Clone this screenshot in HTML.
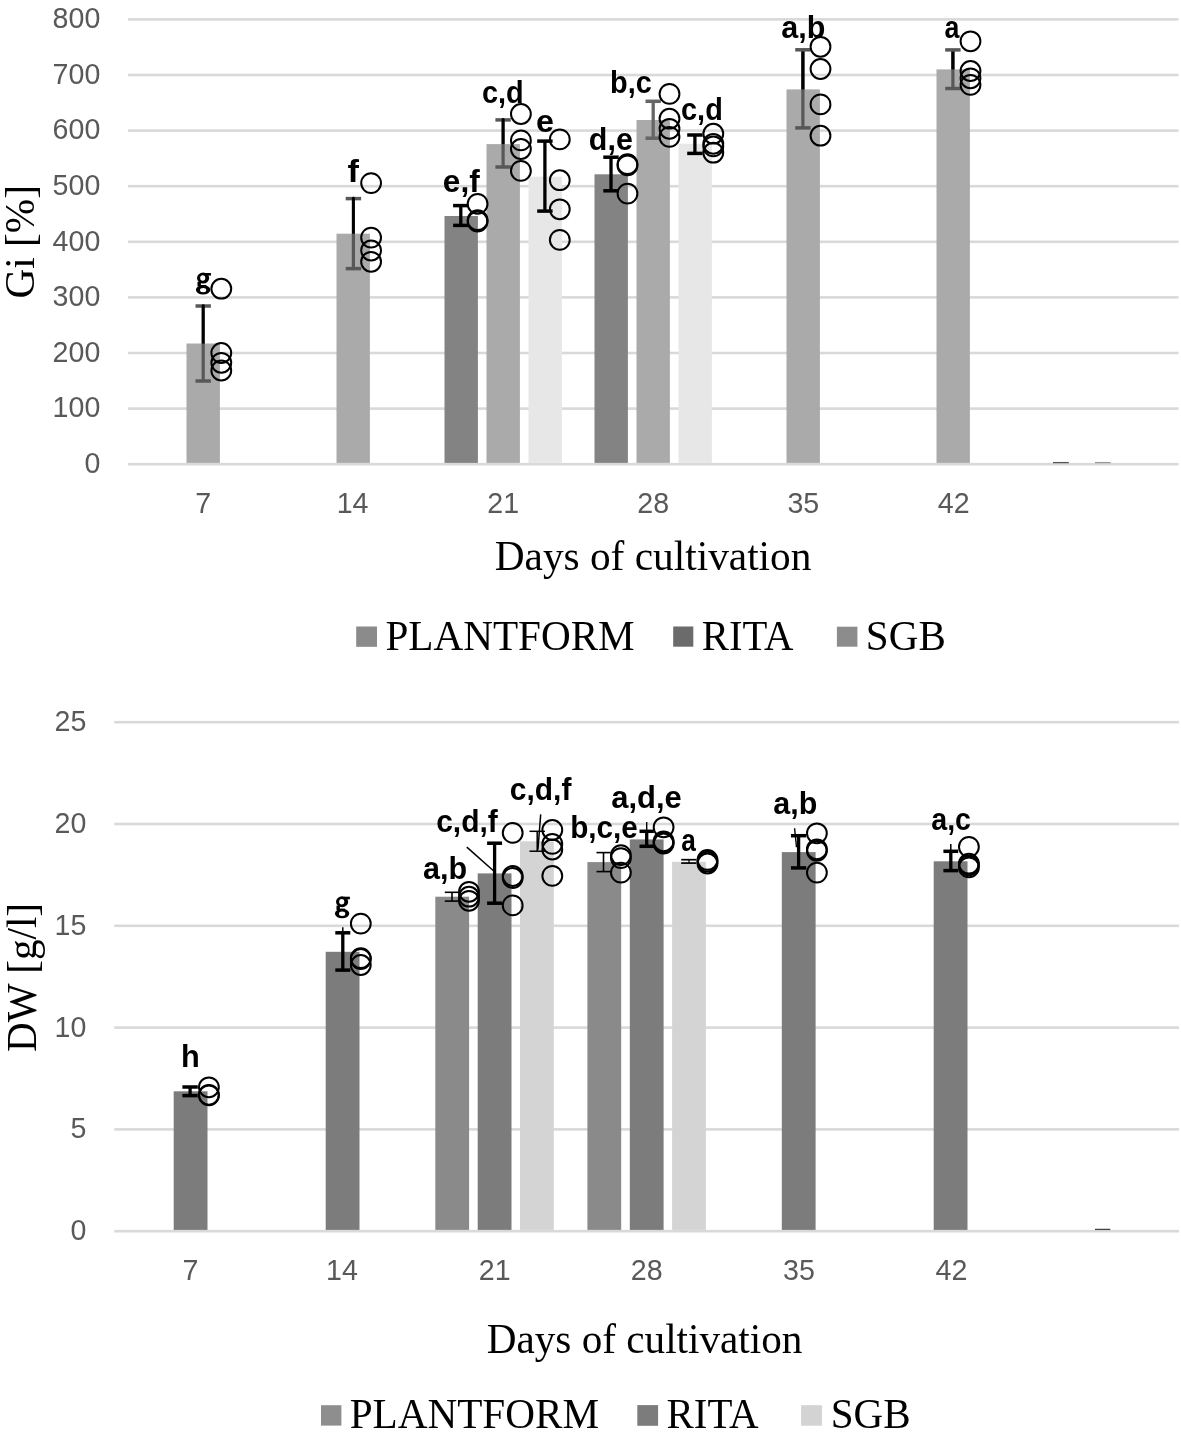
<!DOCTYPE html>
<html><head><meta charset="utf-8"><title>Chart</title><style>
html,body{margin:0;padding:0;background:#fff;width:1181px;height:1441px;overflow:hidden}
svg{display:block}
</style></head><body>
<svg width="1181" height="1441" viewBox="0 0 1181 1441" style="will-change:transform">
<rect width="1181" height="1441" fill="#fff"/>
<rect x="128.00" y="18.10" width="1050.50" height="2.60" fill="#d9d9d9"/>
<rect x="128.00" y="73.70" width="1050.50" height="2.60" fill="#d9d9d9"/>
<rect x="128.00" y="129.30" width="1050.50" height="2.60" fill="#d9d9d9"/>
<rect x="128.00" y="184.90" width="1050.50" height="2.60" fill="#d9d9d9"/>
<rect x="128.00" y="240.50" width="1050.50" height="2.60" fill="#d9d9d9"/>
<rect x="128.00" y="296.10" width="1050.50" height="2.60" fill="#d9d9d9"/>
<rect x="128.00" y="351.70" width="1050.50" height="2.60" fill="#d9d9d9"/>
<rect x="128.00" y="407.30" width="1050.50" height="2.60" fill="#d9d9d9"/>
<rect x="128.00" y="462.90" width="1050.50" height="2.60" fill="#d9d9d9"/>
<text x="52.60" y="28.15" font-family="Liberation Sans" font-weight="normal" font-size="28.6" fill="#595959">800</text>
<text x="52.60" y="83.75" font-family="Liberation Sans" font-weight="normal" font-size="28.6" fill="#595959">700</text>
<text x="52.60" y="139.35" font-family="Liberation Sans" font-weight="normal" font-size="28.6" fill="#595959">600</text>
<text x="52.60" y="194.95" font-family="Liberation Sans" font-weight="normal" font-size="28.6" fill="#595959">500</text>
<text x="52.60" y="250.55" font-family="Liberation Sans" font-weight="normal" font-size="28.6" fill="#595959">400</text>
<text x="52.60" y="306.15" font-family="Liberation Sans" font-weight="normal" font-size="28.6" fill="#595959">300</text>
<text x="52.60" y="361.75" font-family="Liberation Sans" font-weight="normal" font-size="28.6" fill="#595959">200</text>
<text x="52.60" y="417.35" font-family="Liberation Sans" font-weight="normal" font-size="28.6" fill="#595959">100</text>
<text x="84.41" y="472.95" font-family="Liberation Sans" font-weight="normal" font-size="28.6" fill="#595959">0</text>
<text x="195.33" y="512.94" font-family="Liberation Sans" font-weight="normal" font-size="28.6" fill="#595959">7</text>
<text x="336.72" y="512.94" font-family="Liberation Sans" font-weight="normal" font-size="28.6" fill="#595959">14</text>
<text x="487.37" y="513.08" font-family="Liberation Sans" font-weight="normal" font-size="28.6" fill="#595959">21</text>
<text x="637.30" y="512.95" font-family="Liberation Sans" font-weight="normal" font-size="28.6" fill="#595959">28</text>
<text x="787.45" y="512.95" font-family="Liberation Sans" font-weight="normal" font-size="28.6" fill="#595959">35</text>
<text x="937.79" y="513.08" font-family="Liberation Sans" font-weight="normal" font-size="28.6" fill="#595959">42</text>
<rect x="186.50" y="343.50" width="33.40" height="119.40" fill="#aaaaaa"/>
<rect x="336.50" y="233.70" width="33.40" height="229.20" fill="#aaaaaa"/>
<rect x="444.50" y="216.00" width="33.40" height="246.90" fill="#838383"/>
<rect x="486.50" y="144.10" width="33.40" height="318.80" fill="#aaaaaa"/>
<rect x="528.50" y="176.70" width="33.40" height="286.20" fill="#e7e7e7"/>
<rect x="594.50" y="174.30" width="33.40" height="288.60" fill="#838383"/>
<rect x="636.50" y="120.00" width="33.40" height="342.90" fill="#aaaaaa"/>
<rect x="678.50" y="143.80" width="33.40" height="319.10" fill="#e7e7e7"/>
<rect x="786.50" y="89.40" width="33.40" height="373.50" fill="#aaaaaa"/>
<rect x="936.50" y="69.40" width="33.40" height="393.50" fill="#aaaaaa"/>
<line x1="203.20" y1="306.00" x2="203.20" y2="381.00" stroke="#585858" stroke-width="3.2"/>
<line x1="195.50" y1="306.00" x2="210.90" y2="306.00" stroke="#585858" stroke-width="3.5"/>
<line x1="195.50" y1="381.00" x2="210.90" y2="381.00" stroke="#585858" stroke-width="3.5"/>
<line x1="203.20" y1="305.60" x2="203.20" y2="343.60" stroke="#000" stroke-width="2.9"/>
<circle cx="203.20" cy="305.60" r="1.45" fill="#000"/>
<line x1="353.40" y1="198.60" x2="353.40" y2="268.60" stroke="#585858" stroke-width="3.2"/>
<line x1="345.70" y1="198.60" x2="361.10" y2="198.60" stroke="#585858" stroke-width="3.5"/>
<line x1="345.70" y1="268.60" x2="361.10" y2="268.60" stroke="#585858" stroke-width="3.5"/>
<line x1="353.40" y1="198.20" x2="353.40" y2="233.70" stroke="#000" stroke-width="2.9"/>
<circle cx="353.40" cy="198.20" r="1.45" fill="#000"/>
<line x1="460.80" y1="205.60" x2="460.80" y2="225.40" stroke="#000" stroke-width="3.3"/>
<line x1="453.10" y1="205.60" x2="468.50" y2="205.60" stroke="#000" stroke-width="3.5"/>
<line x1="453.10" y1="225.40" x2="468.50" y2="225.40" stroke="#000" stroke-width="3.5"/>
<line x1="503.10" y1="119.90" x2="503.10" y2="167.00" stroke="#585858" stroke-width="3.2"/>
<line x1="495.40" y1="119.90" x2="510.80" y2="119.90" stroke="#585858" stroke-width="3.5"/>
<line x1="495.40" y1="167.00" x2="510.80" y2="167.00" stroke="#585858" stroke-width="3.5"/>
<line x1="503.10" y1="119.50" x2="503.10" y2="144.10" stroke="#000" stroke-width="2.9"/>
<circle cx="503.10" cy="119.50" r="1.45" fill="#000"/>
<line x1="544.90" y1="141.10" x2="544.90" y2="211.10" stroke="#000" stroke-width="3.3"/>
<line x1="537.20" y1="141.10" x2="552.60" y2="141.10" stroke="#000" stroke-width="3.5"/>
<line x1="537.20" y1="211.10" x2="552.60" y2="211.10" stroke="#000" stroke-width="3.5"/>
<line x1="611.00" y1="157.20" x2="611.00" y2="190.80" stroke="#000" stroke-width="3.3"/>
<line x1="603.30" y1="157.20" x2="618.70" y2="157.20" stroke="#000" stroke-width="3.5"/>
<line x1="603.30" y1="190.80" x2="618.70" y2="190.80" stroke="#000" stroke-width="3.5"/>
<line x1="653.20" y1="101.30" x2="653.20" y2="138.20" stroke="#666" stroke-width="3.3"/>
<line x1="645.50" y1="101.30" x2="660.90" y2="101.30" stroke="#666" stroke-width="3.5"/>
<line x1="645.50" y1="138.20" x2="660.90" y2="138.20" stroke="#666" stroke-width="3.5"/>
<line x1="694.90" y1="135.00" x2="694.90" y2="153.40" stroke="#000" stroke-width="3.3"/>
<line x1="687.20" y1="135.00" x2="702.60" y2="135.00" stroke="#000" stroke-width="3.5"/>
<line x1="687.20" y1="153.40" x2="702.60" y2="153.40" stroke="#000" stroke-width="3.5"/>
<line x1="802.90" y1="49.80" x2="802.90" y2="127.90" stroke="#585858" stroke-width="3.2"/>
<line x1="802.90" y1="49.80" x2="802.90" y2="89.40" stroke="#000" stroke-width="3.2"/>
<line x1="795.20" y1="49.80" x2="810.60" y2="49.80" stroke="#585858" stroke-width="3.5"/>
<line x1="795.20" y1="127.90" x2="810.60" y2="127.90" stroke="#585858" stroke-width="3.5"/>
<line x1="952.90" y1="49.90" x2="952.90" y2="88.50" stroke="#585858" stroke-width="3.2"/>
<line x1="952.90" y1="49.90" x2="952.90" y2="69.40" stroke="#000" stroke-width="3.2"/>
<line x1="945.20" y1="49.90" x2="960.60" y2="49.90" stroke="#585858" stroke-width="3.5"/>
<line x1="945.20" y1="88.50" x2="960.60" y2="88.50" stroke="#585858" stroke-width="3.5"/>
<line x1="1053.00" y1="462.60" x2="1068.80" y2="462.60" stroke="#555" stroke-width="1.3"/>
<line x1="1095.00" y1="462.60" x2="1110.70" y2="462.60" stroke="#999" stroke-width="1.3"/>
<circle cx="221.30" cy="288.70" r="9.9" fill="none" stroke="#000" stroke-width="2.0"/>
<circle cx="221.30" cy="353.00" r="9.9" fill="none" stroke="#000" stroke-width="2.0"/>
<circle cx="221.30" cy="362.80" r="9.9" fill="none" stroke="#000" stroke-width="2.0"/>
<circle cx="221.30" cy="370.50" r="9.9" fill="none" stroke="#000" stroke-width="2.0"/>
<circle cx="371.10" cy="183.10" r="9.9" fill="none" stroke="#000" stroke-width="2.0"/>
<circle cx="371.10" cy="237.60" r="9.9" fill="none" stroke="#000" stroke-width="2.0"/>
<circle cx="371.10" cy="250.50" r="9.9" fill="none" stroke="#000" stroke-width="2.0"/>
<circle cx="371.10" cy="261.80" r="9.9" fill="none" stroke="#000" stroke-width="2.0"/>
<circle cx="477.60" cy="203.90" r="9.9" fill="none" stroke="#000" stroke-width="2.0"/>
<circle cx="477.60" cy="220.20" r="9.9" fill="none" stroke="#000" stroke-width="2.0"/>
<circle cx="477.60" cy="221.50" r="9.9" fill="none" stroke="#000" stroke-width="2.0"/>
<circle cx="520.90" cy="114.00" r="9.9" fill="none" stroke="#000" stroke-width="2.0"/>
<circle cx="520.90" cy="140.40" r="9.9" fill="none" stroke="#000" stroke-width="2.0"/>
<circle cx="520.90" cy="149.00" r="9.9" fill="none" stroke="#000" stroke-width="2.0"/>
<circle cx="520.90" cy="170.90" r="9.9" fill="none" stroke="#000" stroke-width="2.0"/>
<circle cx="559.80" cy="139.40" r="9.9" fill="none" stroke="#000" stroke-width="2.0"/>
<circle cx="559.80" cy="180.20" r="9.9" fill="none" stroke="#000" stroke-width="2.0"/>
<circle cx="559.80" cy="209.30" r="9.9" fill="none" stroke="#000" stroke-width="2.0"/>
<circle cx="559.80" cy="239.90" r="9.9" fill="none" stroke="#000" stroke-width="2.0"/>
<circle cx="627.50" cy="164.20" r="9.9" fill="none" stroke="#000" stroke-width="2.0"/>
<circle cx="627.50" cy="165.40" r="9.9" fill="none" stroke="#000" stroke-width="2.0"/>
<circle cx="627.50" cy="193.60" r="9.9" fill="none" stroke="#000" stroke-width="2.0"/>
<circle cx="669.50" cy="93.90" r="9.9" fill="none" stroke="#000" stroke-width="2.0"/>
<circle cx="669.50" cy="118.70" r="9.9" fill="none" stroke="#000" stroke-width="2.0"/>
<circle cx="669.50" cy="128.80" r="9.9" fill="none" stroke="#000" stroke-width="2.0"/>
<circle cx="669.50" cy="136.90" r="9.9" fill="none" stroke="#000" stroke-width="2.0"/>
<circle cx="713.30" cy="133.70" r="9.9" fill="none" stroke="#000" stroke-width="2.0"/>
<circle cx="713.30" cy="143.80" r="9.9" fill="none" stroke="#000" stroke-width="2.0"/>
<circle cx="713.30" cy="146.40" r="9.9" fill="none" stroke="#000" stroke-width="2.0"/>
<circle cx="713.30" cy="152.70" r="9.9" fill="none" stroke="#000" stroke-width="2.0"/>
<circle cx="820.50" cy="46.80" r="9.9" fill="none" stroke="#000" stroke-width="2.0"/>
<circle cx="820.50" cy="69.00" r="9.9" fill="none" stroke="#000" stroke-width="2.0"/>
<circle cx="820.50" cy="104.40" r="9.9" fill="none" stroke="#000" stroke-width="2.0"/>
<circle cx="820.50" cy="135.70" r="9.9" fill="none" stroke="#000" stroke-width="2.0"/>
<circle cx="970.50" cy="41.30" r="9.9" fill="none" stroke="#000" stroke-width="2.0"/>
<circle cx="970.50" cy="71.00" r="9.9" fill="none" stroke="#000" stroke-width="2.0"/>
<circle cx="970.50" cy="78.30" r="9.9" fill="none" stroke="#000" stroke-width="2.0"/>
<circle cx="970.50" cy="84.90" r="9.9" fill="none" stroke="#000" stroke-width="2.0"/>
<g transform="translate(196.00,272.60) scale(1.0,1.0)" fill="#000"><path fill-rule="evenodd" d="M1.00,5.45a6.1,5.45 0 1,0 12.20,0a6.1,5.45 0 1,0 -12.20,0ZM4.20,5.40a2.55,2.75 0 1,0 5.10,0a2.55,2.75 0 1,0 -5.10,0Z"/><path fill-rule="evenodd" d="M-0.10,17.25a7.2,4.75 0 1,0 14.40,0a7.2,4.75 0 1,0 -14.40,0ZM4.00,17.50a3.15,2.2 0 1,0 6.30,0a3.15,2.2 0 1,0 -6.30,0Z"/><rect x="9" y="0.4" width="5.9" height="2.6"/><rect x="1.5" y="9.3" width="3.4" height="4.4"/><rect x="4" y="12.4" width="6" height="2"/></g>
<text transform="translate(347.51,181.70) scale(1.0783,1)" font-family="Liberation Sans" font-weight="bold" font-size="31.8" fill="#000">f</text>
<text transform="translate(442.87,191.80) scale(0.9936,1)" font-family="Liberation Sans" font-weight="bold" font-size="31.8" fill="#000">e,f</text>
<text transform="translate(481.97,102.70) scale(0.9083,1)" font-family="Liberation Sans" font-weight="bold" font-size="31.8" fill="#000">c,d</text>
<text transform="translate(535.94,131.70) scale(1.0159,1)" font-family="Liberation Sans" font-weight="bold" font-size="31.8" fill="#000">e</text>
<text transform="translate(588.85,149.50) scale(0.9574,1)" font-family="Liberation Sans" font-weight="bold" font-size="31.8" fill="#000">d,e</text>
<text transform="translate(610.00,92.70) scale(0.9087,1)" font-family="Liberation Sans" font-weight="bold" font-size="31.8" fill="#000">b,c</text>
<text transform="translate(681.07,119.70) scale(0.9083,1)" font-family="Liberation Sans" font-weight="bold" font-size="31.8" fill="#000">c,d</text>
<text transform="translate(781.20,37.60) scale(0.9609,1)" font-family="Liberation Sans" font-weight="bold" font-size="31.8" fill="#000">a,b</text>
<text transform="translate(944.41,37.80) scale(0.8434,1)" font-family="Liberation Sans" font-weight="bold" font-size="31.8" fill="#000">a</text>
<text transform="translate(34.30,298.59) rotate(-90) scale(0.9720,1)" font-family="Liberation Serif" font-weight="normal" font-size="42.5" fill="#000">Gi [%]</text>
<text transform="translate(494.71,569.90) scale(0.9725,1)" font-family="Liberation Serif" font-weight="normal" font-size="42.5" fill="#000">Days of cultivation</text>
<rect x="356.20" y="626.50" width="20.80" height="20.30" fill="#8b8b8b"/>
<text transform="translate(385.41,649.70) scale(0.9800,1)" font-family="Liberation Serif" font-weight="normal" font-size="42" fill="#000">PLANTFORM</text>
<rect x="673.20" y="626.50" width="20.10" height="20.20" fill="#6b6b6b"/>
<text transform="translate(701.83,649.80) scale(0.9692,1)" font-family="Liberation Serif" font-weight="normal" font-size="42" fill="#000">RITA</text>
<rect x="836.90" y="626.70" width="20.50" height="20.00" fill="#8c8c8c"/>
<text transform="translate(865.85,649.60) scale(0.9786,1)" font-family="Liberation Serif" font-weight="normal" font-size="42" fill="#000">SGB</text>
<rect x="114.30" y="1229.90" width="1064.70" height="2.60" fill="#d9d9d9"/>
<rect x="114.30" y="1128.10" width="1064.70" height="2.60" fill="#d9d9d9"/>
<rect x="114.30" y="1026.30" width="1064.70" height="2.60" fill="#d9d9d9"/>
<rect x="114.30" y="924.50" width="1064.70" height="2.60" fill="#d9d9d9"/>
<rect x="114.30" y="822.70" width="1064.70" height="2.60" fill="#d9d9d9"/>
<rect x="114.30" y="720.90" width="1064.70" height="2.60" fill="#d9d9d9"/>
<text x="70.41" y="1240.15" font-family="Liberation Sans" font-weight="normal" font-size="28.6" fill="#595959">0</text>
<text x="70.50" y="1138.20" font-family="Liberation Sans" font-weight="normal" font-size="28.6" fill="#595959">5</text>
<text x="54.51" y="1036.55" font-family="Liberation Sans" font-weight="normal" font-size="28.6" fill="#595959">10</text>
<text x="54.59" y="934.60" font-family="Liberation Sans" font-weight="normal" font-size="28.6" fill="#595959">15</text>
<text x="54.51" y="832.95" font-family="Liberation Sans" font-weight="normal" font-size="28.6" fill="#595959">20</text>
<text x="54.59" y="731.15" font-family="Liberation Sans" font-weight="normal" font-size="28.6" fill="#595959">25</text>
<text x="182.53" y="1280.14" font-family="Liberation Sans" font-weight="normal" font-size="28.6" fill="#595959">7</text>
<text x="326.02" y="1280.14" font-family="Liberation Sans" font-weight="normal" font-size="28.6" fill="#595959">14</text>
<text x="478.77" y="1280.28" font-family="Liberation Sans" font-weight="normal" font-size="28.6" fill="#595959">21</text>
<text x="630.80" y="1280.15" font-family="Liberation Sans" font-weight="normal" font-size="28.6" fill="#595959">28</text>
<text x="783.05" y="1280.15" font-family="Liberation Sans" font-weight="normal" font-size="28.6" fill="#595959">35</text>
<text x="935.49" y="1280.28" font-family="Liberation Sans" font-weight="normal" font-size="28.6" fill="#595959">42</text>
<rect x="173.70" y="1091.30" width="33.80" height="138.60" fill="#7c7c7c"/>
<rect x="325.70" y="951.80" width="33.80" height="278.10" fill="#7c7c7c"/>
<rect x="435.30" y="896.70" width="33.80" height="333.20" fill="#8a8a8a"/>
<rect x="477.70" y="873.40" width="33.80" height="356.50" fill="#7c7c7c"/>
<rect x="520.00" y="841.30" width="33.80" height="388.60" fill="#d4d4d4"/>
<rect x="587.40" y="862.10" width="33.80" height="367.80" fill="#8a8a8a"/>
<rect x="629.80" y="839.40" width="33.80" height="390.50" fill="#7c7c7c"/>
<rect x="672.10" y="861.80" width="33.80" height="368.10" fill="#d4d4d4"/>
<rect x="781.80" y="852.10" width="33.80" height="377.80" fill="#7c7c7c"/>
<rect x="933.70" y="861.30" width="33.80" height="368.60" fill="#7c7c7c"/>
<line x1="190.10" y1="1087.00" x2="190.10" y2="1095.60" stroke="#000" stroke-width="3.3"/>
<line x1="182.40" y1="1087.00" x2="197.80" y2="1087.00" stroke="#000" stroke-width="3.5"/>
<line x1="182.40" y1="1095.60" x2="197.80" y2="1095.60" stroke="#000" stroke-width="3.5"/>
<line x1="342.80" y1="932.80" x2="342.80" y2="970.10" stroke="#000" stroke-width="3.3"/>
<line x1="335.30" y1="932.80" x2="350.30" y2="932.80" stroke="#000" stroke-width="3.5"/>
<line x1="335.30" y1="970.10" x2="350.30" y2="970.10" stroke="#000" stroke-width="3.5"/>
<line x1="342.80" y1="927.20" x2="342.80" y2="933.00" stroke="#000" stroke-width="1.5"/>
<line x1="452.00" y1="892.30" x2="452.00" y2="901.10" stroke="#000" stroke-width="1.6"/>
<line x1="444.80" y1="892.30" x2="459.20" y2="892.30" stroke="#000" stroke-width="1.6"/>
<line x1="444.80" y1="901.10" x2="459.20" y2="901.10" stroke="#000" stroke-width="1.6"/>
<line x1="494.60" y1="843.20" x2="494.60" y2="903.20" stroke="#000" stroke-width="3.3"/>
<line x1="487.10" y1="843.20" x2="502.10" y2="843.20" stroke="#000" stroke-width="3.5"/>
<line x1="487.10" y1="903.20" x2="502.10" y2="903.20" stroke="#000" stroke-width="3.5"/>
<line x1="466.80" y1="847.10" x2="493.50" y2="870.80" stroke="#000" stroke-width="1.5"/>
<line x1="537.20" y1="831.30" x2="537.20" y2="851.20" stroke="#000" stroke-width="1.5"/>
<line x1="529.50" y1="831.30" x2="544.90" y2="831.30" stroke="#000" stroke-width="1.5"/>
<line x1="529.50" y1="851.20" x2="544.90" y2="851.20" stroke="#000" stroke-width="1.5"/>
<line x1="540.70" y1="814.40" x2="537.90" y2="849.70" stroke="#000" stroke-width="1.5"/>
<line x1="603.50" y1="852.60" x2="603.50" y2="871.60" stroke="#000" stroke-width="1.6"/>
<line x1="596.50" y1="852.60" x2="610.50" y2="852.60" stroke="#000" stroke-width="1.6"/>
<line x1="596.50" y1="871.60" x2="610.50" y2="871.60" stroke="#000" stroke-width="1.6"/>
<line x1="646.70" y1="831.30" x2="646.70" y2="846.30" stroke="#000" stroke-width="3.3"/>
<line x1="639.50" y1="831.30" x2="653.90" y2="831.30" stroke="#000" stroke-width="3.5"/>
<line x1="639.50" y1="846.30" x2="653.90" y2="846.30" stroke="#000" stroke-width="3.5"/>
<line x1="646.70" y1="822.00" x2="646.70" y2="831.00" stroke="#000" stroke-width="1.4"/>
<line x1="681.20" y1="859.70" x2="696.30" y2="859.70" stroke="#000" stroke-width="1.7"/>
<line x1="681.20" y1="863.10" x2="696.30" y2="863.10" stroke="#000" stroke-width="1.7"/>
<line x1="689.00" y1="859.70" x2="689.00" y2="863.10" stroke="#000" stroke-width="1.2"/>
<line x1="798.60" y1="835.70" x2="798.60" y2="867.90" stroke="#000" stroke-width="3.3"/>
<line x1="790.95" y1="835.70" x2="806.25" y2="835.70" stroke="#000" stroke-width="3.5"/>
<line x1="790.95" y1="867.90" x2="806.25" y2="867.90" stroke="#000" stroke-width="3.5"/>
<line x1="794.60" y1="828.20" x2="796.50" y2="847.20" stroke="#000" stroke-width="1.4"/>
<line x1="950.80" y1="851.30" x2="950.80" y2="870.60" stroke="#000" stroke-width="3.3"/>
<line x1="943.40" y1="851.30" x2="958.20" y2="851.30" stroke="#000" stroke-width="3.5"/>
<line x1="943.40" y1="870.60" x2="958.20" y2="870.60" stroke="#000" stroke-width="3.5"/>
<line x1="950.80" y1="844.10" x2="950.80" y2="851.00" stroke="#000" stroke-width="1.5"/>
<line x1="1095.00" y1="1229.40" x2="1110.30" y2="1229.40" stroke="#444" stroke-width="1.3"/>
<circle cx="208.90" cy="1087.30" r="9.9" fill="none" stroke="#000" stroke-width="2.0"/>
<circle cx="208.90" cy="1094.80" r="9.9" fill="none" stroke="#000" stroke-width="2.0"/>
<circle cx="208.90" cy="1095.40" r="9.9" fill="none" stroke="#000" stroke-width="2.0"/>
<circle cx="360.80" cy="923.60" r="9.9" fill="none" stroke="#000" stroke-width="2.0"/>
<circle cx="360.80" cy="958.20" r="9.9" fill="none" stroke="#000" stroke-width="2.0"/>
<circle cx="360.80" cy="959.00" r="9.9" fill="none" stroke="#000" stroke-width="2.0"/>
<circle cx="360.80" cy="965.00" r="9.9" fill="none" stroke="#000" stroke-width="2.0"/>
<circle cx="469.00" cy="891.80" r="9.9" fill="none" stroke="#000" stroke-width="2.0"/>
<circle cx="469.00" cy="896.70" r="9.9" fill="none" stroke="#000" stroke-width="2.0"/>
<circle cx="469.00" cy="900.80" r="9.9" fill="none" stroke="#000" stroke-width="2.0"/>
<circle cx="512.70" cy="832.90" r="9.9" fill="none" stroke="#000" stroke-width="2.0"/>
<circle cx="512.70" cy="876.00" r="9.9" fill="none" stroke="#000" stroke-width="2.0"/>
<circle cx="512.70" cy="878.00" r="9.9" fill="none" stroke="#000" stroke-width="2.0"/>
<circle cx="512.70" cy="905.40" r="9.9" fill="none" stroke="#000" stroke-width="2.0"/>
<circle cx="552.30" cy="830.00" r="9.9" fill="none" stroke="#000" stroke-width="2.0"/>
<circle cx="552.30" cy="843.90" r="9.9" fill="none" stroke="#000" stroke-width="2.0"/>
<circle cx="552.30" cy="849.50" r="9.9" fill="none" stroke="#000" stroke-width="2.0"/>
<circle cx="552.30" cy="875.90" r="9.9" fill="none" stroke="#000" stroke-width="2.0"/>
<circle cx="620.90" cy="855.10" r="9.9" fill="none" stroke="#000" stroke-width="2.0"/>
<circle cx="620.90" cy="858.10" r="9.9" fill="none" stroke="#000" stroke-width="2.0"/>
<circle cx="620.90" cy="872.60" r="9.9" fill="none" stroke="#000" stroke-width="2.0"/>
<circle cx="663.60" cy="827.30" r="9.9" fill="none" stroke="#000" stroke-width="2.0"/>
<circle cx="663.60" cy="841.30" r="9.9" fill="none" stroke="#000" stroke-width="2.0"/>
<circle cx="663.60" cy="842.80" r="9.9" fill="none" stroke="#000" stroke-width="2.0"/>
<circle cx="663.60" cy="843.50" r="9.9" fill="none" stroke="#000" stroke-width="2.0"/>
<circle cx="707.50" cy="859.90" r="9.9" fill="none" stroke="#000" stroke-width="2.0"/>
<circle cx="707.50" cy="861.70" r="9.9" fill="none" stroke="#000" stroke-width="2.0"/>
<circle cx="707.50" cy="863.50" r="9.9" fill="none" stroke="#000" stroke-width="2.0"/>
<circle cx="816.90" cy="833.30" r="9.9" fill="none" stroke="#000" stroke-width="2.0"/>
<circle cx="816.90" cy="849.30" r="9.9" fill="none" stroke="#000" stroke-width="2.0"/>
<circle cx="816.90" cy="850.80" r="9.9" fill="none" stroke="#000" stroke-width="2.0"/>
<circle cx="816.90" cy="872.60" r="9.9" fill="none" stroke="#000" stroke-width="2.0"/>
<circle cx="968.90" cy="846.90" r="9.9" fill="none" stroke="#000" stroke-width="2.0"/>
<circle cx="968.90" cy="863.60" r="9.9" fill="none" stroke="#000" stroke-width="2.0"/>
<circle cx="968.90" cy="865.30" r="9.9" fill="none" stroke="#000" stroke-width="2.0"/>
<circle cx="968.90" cy="867.40" r="9.9" fill="none" stroke="#000" stroke-width="2.0"/>
<text transform="translate(181.06,1066.80) scale(0.9651,1)" font-family="Liberation Sans" font-weight="bold" font-size="31.8" fill="#000">h</text>
<g transform="translate(335.00,896.30) scale(1.0,1.0)" fill="#000"><path fill-rule="evenodd" d="M1.00,5.45a6.1,5.45 0 1,0 12.20,0a6.1,5.45 0 1,0 -12.20,0ZM4.20,5.40a2.55,2.75 0 1,0 5.10,0a2.55,2.75 0 1,0 -5.10,0Z"/><path fill-rule="evenodd" d="M-0.10,17.25a7.2,4.75 0 1,0 14.40,0a7.2,4.75 0 1,0 -14.40,0ZM4.00,17.50a3.15,2.2 0 1,0 6.30,0a3.15,2.2 0 1,0 -6.30,0Z"/><rect x="9" y="0.4" width="5.9" height="2.6"/><rect x="1.5" y="9.3" width="3.4" height="4.4"/><rect x="4" y="12.4" width="6" height="2"/></g>
<text transform="translate(423.10,878.60) scale(0.9609,1)" font-family="Liberation Sans" font-weight="bold" font-size="31.8" fill="#000">a,b</text>
<text transform="translate(436.13,831.70) scale(0.9441,1)" font-family="Liberation Sans" font-weight="bold" font-size="31.8" fill="#000">c,d,f</text>
<text transform="translate(509.83,799.60) scale(0.9425,1)" font-family="Liberation Sans" font-weight="bold" font-size="31.8" fill="#000">c,d,f</text>
<text transform="translate(570.14,837.60) scale(0.9353,1)" font-family="Liberation Sans" font-weight="bold" font-size="31.8" fill="#000">b,c,e</text>
<text transform="translate(611.19,807.50) scale(0.9738,1)" font-family="Liberation Sans" font-weight="bold" font-size="31.8" fill="#000">a,d,e</text>
<text transform="translate(681.23,850.60) scale(0.8257,1)" font-family="Liberation Sans" font-weight="bold" font-size="31.8" fill="#000">a</text>
<text transform="translate(773.31,813.60) scale(0.9586,1)" font-family="Liberation Sans" font-weight="bold" font-size="31.8" fill="#000">a,b</text>
<text transform="translate(931.26,829.70) scale(0.8998,1)" font-family="Liberation Sans" font-weight="bold" font-size="31.8" fill="#000">a,c</text>
<text transform="translate(35.90,1051.99) rotate(-90) scale(0.9692,1)" font-family="Liberation Serif" font-weight="normal" font-size="42.5" fill="#000">DW [g/l]</text>
<text transform="translate(486.71,1353.00) scale(0.9694,1)" font-family="Liberation Serif" font-weight="normal" font-size="42.5" fill="#000">Days of cultivation</text>
<rect x="321.00" y="1405.20" width="20.40" height="20.40" fill="#8e8e8e"/>
<text transform="translate(349.71,1427.90) scale(0.9800,1)" font-family="Liberation Serif" font-weight="normal" font-size="42" fill="#000">PLANTFORM</text>
<rect x="637.30" y="1405.10" width="20.80" height="20.70" fill="#7c7c7c"/>
<text transform="translate(666.52,1427.70) scale(0.9734,1)" font-family="Liberation Serif" font-weight="normal" font-size="42" fill="#000">RITA</text>
<rect x="801.10" y="1405.20" width="20.80" height="20.50" fill="#d3d3d3"/>
<text transform="translate(830.65,1428.00) scale(0.9786,1)" font-family="Liberation Serif" font-weight="normal" font-size="42" fill="#000">SGB</text>
</svg></body></html>
